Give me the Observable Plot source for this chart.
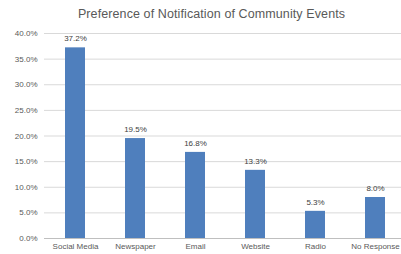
<!DOCTYPE html>
<html><head><meta charset="utf-8">
<script src="https://cdn.jsdelivr.net/npm/d3@7"></script>
<script src="https://cdn.jsdelivr.net/npm/@observablehq/plot@0.6"></script>
<style>
body{margin:0;background:#fff;width:401px;height:254px;overflow:hidden;font-family:"Liberation Sans",sans-serif;}
#title{height:25px;line-height:28px;text-align:center;font-size:12.5px;color:#595959;padding-left:22px;box-sizing:border-box;letter-spacing:0.1px;}
</style></head><body>
<div id="title">Preference of Notification of Community Events</div>
<div id="chart"></div>
<script>
const categories = ["Social Media","Newspaper","Email","Website","Radio","No Response"];
const values = [37.2, 19.5, 16.8, 13.3, 5.3, 8.0];
const yTicks = [0,5,10,15,20,25,30,35,40];
const data = categories.map((c,i)=>({category:c, value:values[i]}));
const chart = Plot.plot({
  width: 401, height: 229,
  marginLeft: 44, marginRight: -4, marginTop: 8, marginBottom: 16,
  style:{fontFamily:"Liberation Sans, sans-serif", fontSize:"8px", color:"#595959", background:"#fff", overflow:"hidden"},
  x:{domain:categories, paddingInner:0.668, paddingOuter:0.33, label:null},
  y:{domain:[0,40], label:null},
  marks:[
    Plot.gridY(yTicks,{stroke:"#d9d9d9", strokeOpacity:1, strokeWidth:1}),
    Plot.ruleY([0],{stroke:"#bfbfbf"}),
    Plot.barY(data,{x:"category", y:"value", fill:"#4f7fbd"}),
    Plot.text(data,{x:"category", y:"value", text:d=>d.value.toFixed(1)+"%", dy:-9, fill:"#404040", fontSize:8}),
    Plot.axisX({tickSize:0, tickPadding:5, fontSize:8, letterSpacing:0.2}),
    Plot.axisY({ticks:yTicks, tickSize:0, tickPadding:7, tickFormat:d=>d.toFixed(1)+"%", fontSize:8, letterSpacing:0.3})
  ]
});
document.getElementById("chart").appendChild(chart);
</script>
</body></html>
